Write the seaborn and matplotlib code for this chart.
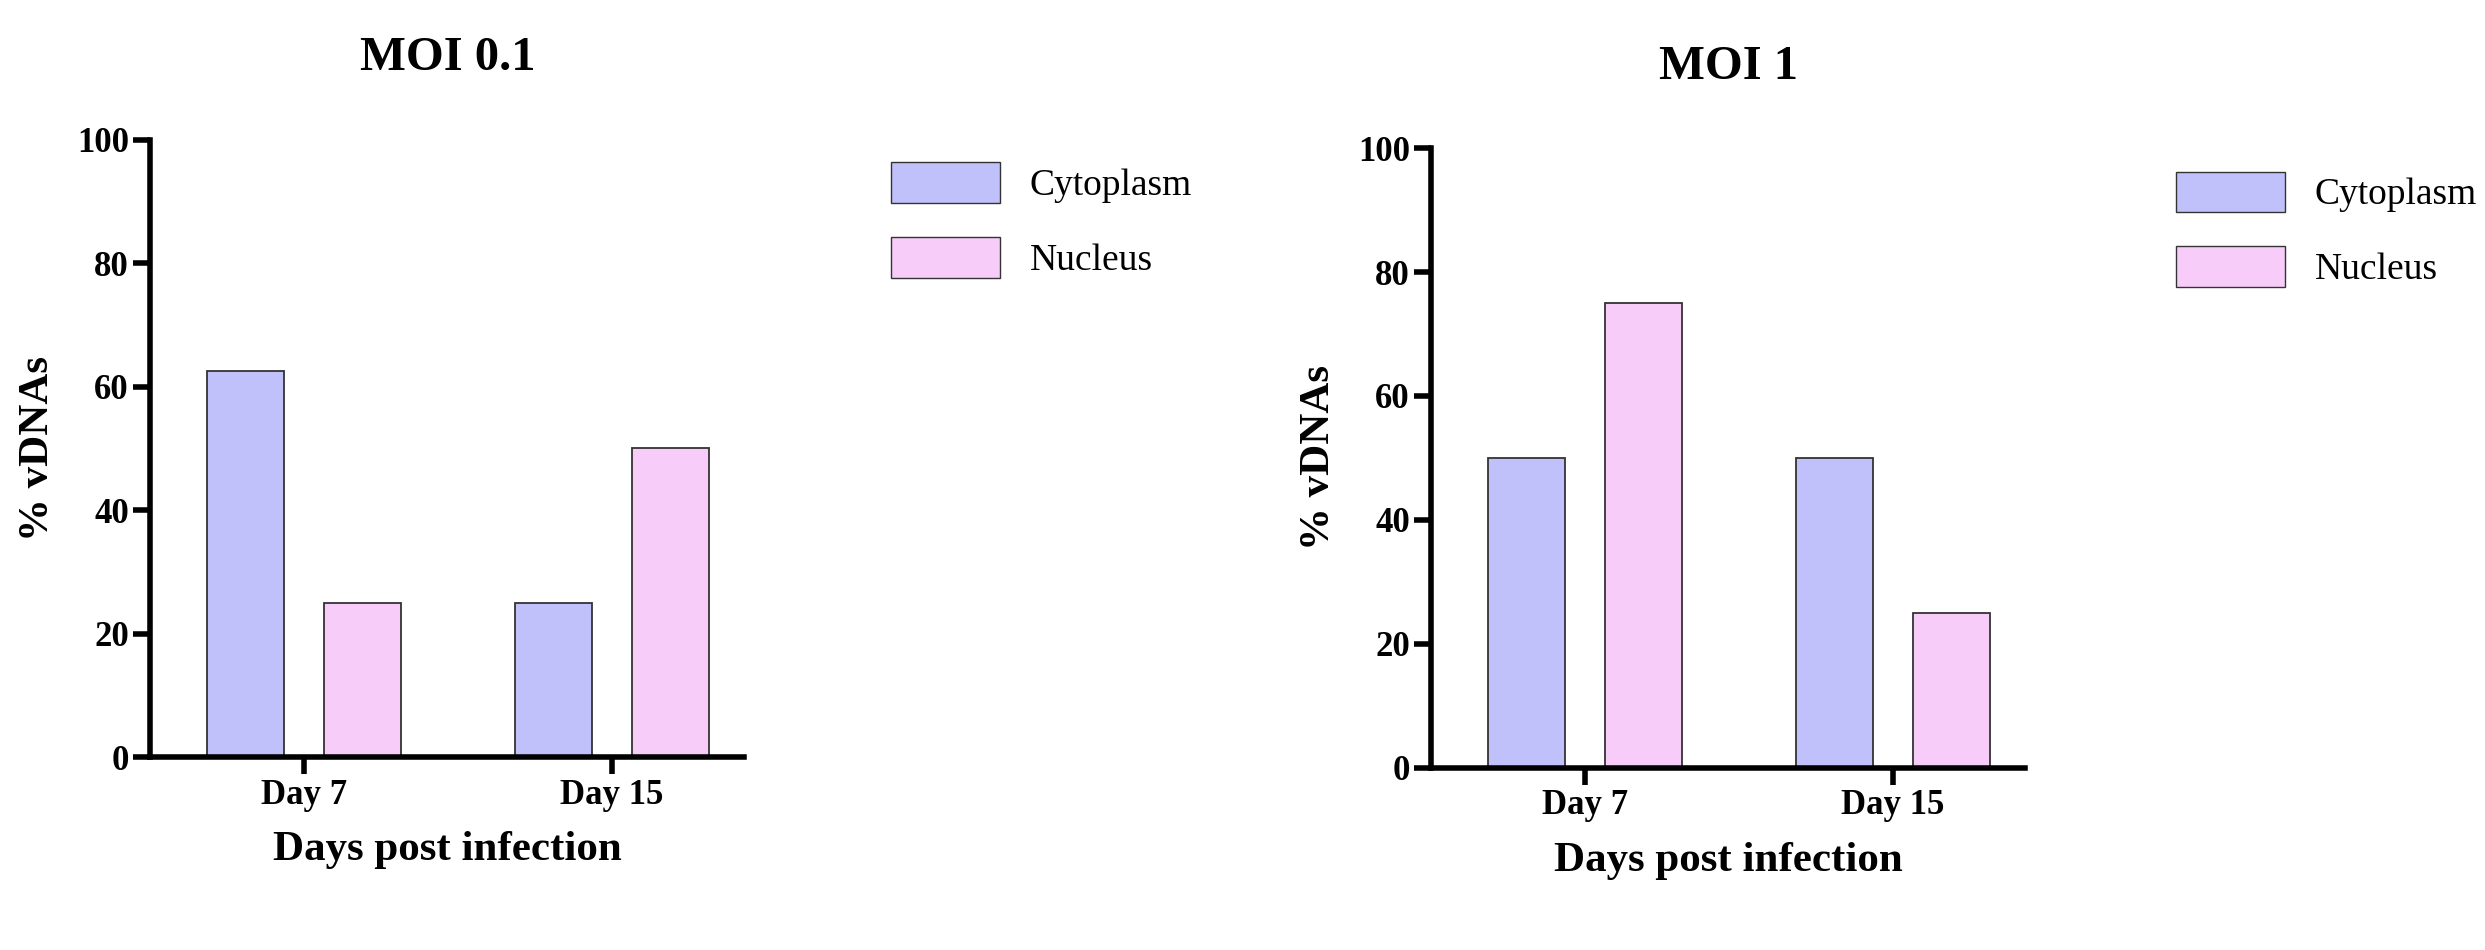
import matplotlib
matplotlib.use("Agg")
import matplotlib.pyplot as plt
import seaborn as sns
import pandas as pd
from matplotlib.patches import Patch

days = ["Day 7", "Day 15"]
compartments = ["Cytoplasm", "Nucleus"]
moi01_cyto = [62.5, 25]
moi01_nuc = [25, 50]
moi1_cyto = [50, 50]
moi1_nuc = [75, 25]
yticks = [0, 20, 40, 60, 80, 100]
colors = ["#C0C0FA", "#F8CCF8"]

plt.rcParams["font.family"] = "Liberation Serif"
fig = plt.figure(figsize=(24.85, 9.5), dpi=100)

def make(ax, cyto, nuc, title):
    df = pd.DataFrame({"day": days * 2, "comp": ["Cytoplasm"] * 2 + ["Nucleus"] * 2,
                       "val": cyto + nuc})
    sns.barplot(data=df, x="day", y="val", hue="comp", order=days, hue_order=compartments,
                palette=colors, width=0.76, gap=0.34, edgecolor="#333333", linewidth=1.3,
                saturation=1, ax=ax, legend=False)
    ax.set_xlim(-0.5, 1.43)
    ax.set_ylim(0, 100)
    ax.set_yticks(yticks)
    for s in ["top", "right"]:
        ax.spines[s].set_visible(False)
    for s in ["left", "bottom"]:
        ax.spines[s].set_linewidth(4)
    ax.tick_params(width=4, length=12, labelsize=25)
    for t in ax.get_xticklabels() + ax.get_yticklabels():
        t.set_fontweight("bold")
    ax.set_xlabel("Days post infection", fontsize=31, fontweight="bold", labelpad=14)
    ax.set_ylabel("% vDNAs", fontsize=31, fontweight="bold", labelpad=14)
    ax.set_title(title, fontsize=35, fontweight="bold", pad=50)

ax1 = fig.add_axes([0.0605, 0.203, 0.239, 0.65])
make(ax1, moi01_cyto, moi01_nuc, "MOI 0.1")
ax2 = fig.add_axes([0.576, 0.192, 0.239, 0.652])
make(ax2, moi1_cyto, moi1_nuc, "MOI 1")

handles = [Patch(facecolor=c, edgecolor="#333333", label=l) for c, l in zip(colors, compartments)]
for x, y in [(0.345, 0.865), (0.862, 0.855)]:
    fig.legend(handles=handles, loc="upper left", bbox_to_anchor=(x, y), frameon=False,
               fontsize=27, handlelength=2.9, handleheight=1.3, labelspacing=0.9)

fig.savefig("out.png", dpi=100)
